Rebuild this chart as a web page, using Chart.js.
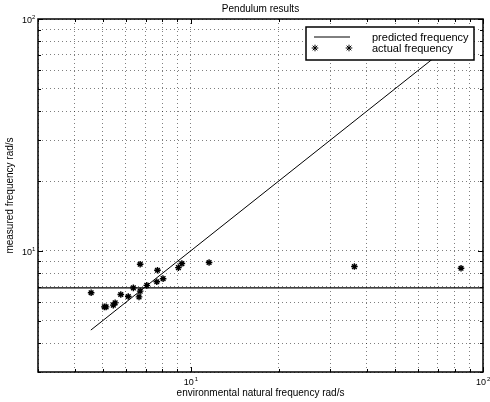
<!DOCTYPE html>
<html>
<head>
<meta charset="utf-8">
<script src="https://cdn.jsdelivr.net/npm/chart.js@4/dist/chart.umd.min.js"></script>
<style>
  html, body { margin: 0; padding: 0; background: #fff; }
  #wrap { width: 490px; height: 402px; }
</style>
</head>
<body>
<div id="wrap"><canvas id="myChart"></canvas></div>
<script>
// environmental natural frequency (rad/s) vs measured frequency (rad/s)
var natFreq  = [4.56, 5.06, 5.13, 5.43, 5.51, 5.76, 6.11, 6.36, 6.65, 6.71, 6.71, 7.07, 7.65, 7.69, 8.04, 9.07, 9.32, 11.55, 36.3, 84.1];
var measFreq = [6.59, 5.73, 5.73, 5.83, 5.96, 6.48, 6.35, 6.92, 6.33, 6.70, 8.75, 7.09, 7.35, 8.24, 7.58, 8.46, 8.81, 8.90, 8.55, 8.41];

// predicted: measured = natural, over this range
var predictedRange = [4.55, 70];
// pendulum's own frequency, flat line
var pendulumFreq = 6.92;

var axisMin = 3;
var axisMax = 100;
var gridTicks = [3, 4, 5, 6, 7, 8, 9, 10, 20, 30, 40, 50, 60, 70, 80, 90, 100];
var decadeTicks = [10, 100];

var FONT = '"Liberation Sans", Arial, Helvetica, sans-serif';

var actualPoints = natFreq.map(function(x, i){ return {x: x, y: measFreq[i]}; });
var predictedPoints = predictedRange.map(function(x){ return {x: x, y: x}; });
var levelPoints = [{x: axisMin, y: pendulumFreq}, {x: axisMax, y: pendulumFreq}];

function fixTicks(scale){
	scale.ticks = gridTicks.map(function(v){ return {value: v}; });
}

function drawStar(ctx, x, y){
	Chart.helpers.drawPoint(ctx, {pointStyle: 'star', radius: 3.3, borderWidth: 1.4, rotation: 0}, x, y);
}

// box, inward tick marks, decade labels and the legend, drawn on top
var matlabAxes = {
	id: 'matlabAxes',
	afterDatasetsDraw: function(chart){
		var ctx = chart.ctx;
		var a = chart.chartArea;
		var xs = chart.scales.x, ys = chart.scales.y;
		ctx.save();

		// inward ticks
		ctx.strokeStyle = '#000';
		ctx.lineWidth = 1;
		gridTicks.forEach(function(v){
			var len = decadeTicks.indexOf(v) >= 0 ? 5 : 3;
			var px = Math.round(xs.getPixelForValue(v)) + 0.5;
			var py = Math.round(ys.getPixelForValue(v)) + 0.5;
			ctx.beginPath();
			ctx.moveTo(px, a.bottom); ctx.lineTo(px, a.bottom - len);
			ctx.moveTo(px, a.top); ctx.lineTo(px, a.top + len);
			ctx.moveTo(a.left, py); ctx.lineTo(a.left + len, py);
			ctx.moveTo(a.right, py); ctx.lineTo(a.right - len, py);
			ctx.stroke();
		});

		// box
		ctx.lineWidth = 1.5;
		ctx.strokeRect(a.left, a.top, a.right - a.left, a.bottom - a.top);

		// decade labels 10^n
		ctx.fillStyle = '#000';
		ctx.textAlign = 'left';
		ctx.textBaseline = 'alphabetic';
		decadeTicks.forEach(function(v){
			var exp = String(Math.round(Math.log10(v)));
			var px = xs.getPixelForValue(v);
			var py = ys.getPixelForValue(v);
			ctx.font = '9px ' + FONT;
			var w = ctx.measureText('10').width;
			// x axis
			ctx.fillText('10', px - w / 2 - 2, a.bottom + 13);
			ctx.font = '6px ' + FONT;
			ctx.fillText(exp, px + w / 2 - 1, a.bottom + 9);
			// y axis
			ctx.font = '9px ' + FONT;
			ctx.fillText('10', a.left - w - 6, py + 4);
			ctx.font = '6px ' + FONT;
			ctx.fillText(exp, a.left - 6, py);
		});

		// legend
		var lx = 306, ly = 27, lw = 168, lh = 33;
		ctx.fillStyle = '#fff';
		ctx.fillRect(lx, ly, lw, lh);
		ctx.lineWidth = 1.5;
		ctx.strokeStyle = '#000';
		ctx.strokeRect(lx, ly, lw, lh);
		ctx.font = '11px ' + FONT;
		ctx.fillStyle = '#000';
		ctx.textBaseline = 'middle';
		chart.data.datasets.forEach(function(ds, i){
			if (!ds.label) return;
			var rowY = ly + 10 + i * 11;
			if (ds.showLine === false) {
				drawStar(ctx, lx + 9, rowY);
				drawStar(ctx, lx + 43, rowY);
			} else {
				ctx.lineWidth = 1;
				ctx.beginPath();
				ctx.moveTo(lx + 8, rowY); ctx.lineTo(lx + 44, rowY);
				ctx.stroke();
			}
			ctx.fillText(ds.label, lx + 66, rowY + 1);
		});
		ctx.restore();
	}
};

new Chart(document.getElementById('myChart'), {
	type: 'scatter',
	data: {
		datasets: [
			{
				label: 'predicted frequency',
				data: predictedPoints,
				showLine: true,
				borderColor: '#000',
				borderWidth: 1,
				pointRadius: 0
			},
			{
				label: 'actual frequency',
				data: actualPoints,
				showLine: false,
				pointStyle: 'star',
				pointRadius: 3.3,
				pointBorderWidth: 1.4,
				pointBorderColor: '#000',
				pointBackgroundColor: '#000'
			},
			{
				label: '',
				data: levelPoints,
				showLine: true,
				borderColor: '#000',
				borderWidth: 1.3,
				pointRadius: 0
			}
		]
	},
	options: {
		responsive: true,
		maintainAspectRatio: false,
		animation: false,
		layout: { padding: { left: 0, right: 7, top: 0, bottom: 0 } },
		plugins: {
			legend: { display: false },
			tooltip: { enabled: false },
			title: {
				display: true,
				text: 'Pendulum results',
				fullSize: false,
				color: '#000',
				font: { family: FONT, size: 10, weight: 'normal' },
				padding: { top: 3, bottom: 4 }
			}
		},
		scales: {
			x: {
				type: 'logarithmic',
				min: axisMin,
				max: axisMax,
				afterBuildTicks: fixTicks,
				ticks: { display: false },
				grid: { color: 'rgba(0,0,0,0.5)', lineWidth: 1, drawTicks: false },
				border: { display: false, dash: [1, 3] },
				title: {
					display: true,
					text: 'environmental natural frequency rad/s',
					color: '#000',
					font: { family: FONT, size: 10 },
					padding: { top: 15, bottom: 3 }
				}
			},
			y: {
				type: 'logarithmic',
				min: axisMin,
				max: axisMax,
				afterBuildTicks: fixTicks,
				ticks: { display: false },
				grid: { color: 'rgba(0,0,0,0.5)', lineWidth: 1, drawTicks: false },
				border: { display: false, dash: [1, 3] },
				title: {
					display: true,
					text: 'measured frequency rad/s',
					color: '#000',
					font: { family: FONT, size: 10 },
					padding: { top: 4, bottom: 22 }
				}
			}
		}
	},
	plugins: [matlabAxes]
});
</script>
</body>
</html>
